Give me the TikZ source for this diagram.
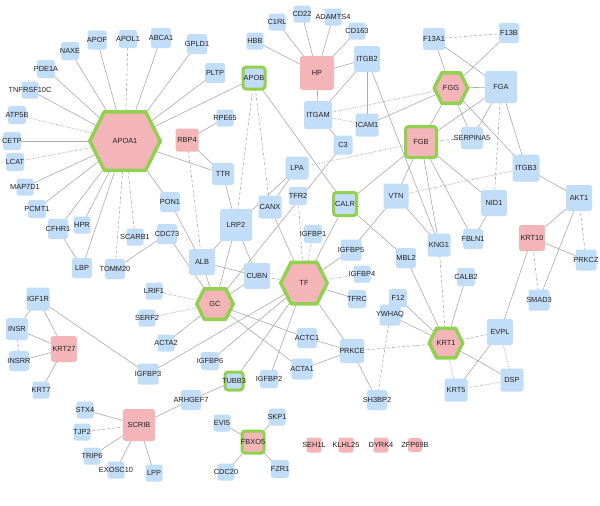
\documentclass[tikz,border=0pt]{standalone}
\usepackage{fontspec}
\setmainfont{Liberation Sans}
\definecolor{nblue}{HTML}{C2DDF7}
\definecolor{npink}{HTML}{F4B5B9}
\definecolor{ngreen}{HTML}{92D050}
\definecolor{egray}{HTML}{ABABAB}
\definecolor{txt}{HTML}{222222}
\pgfdeclarelayer{bgl}
\pgfdeclarelayer{edges}
\pgfsetlayers{bgl,edges,main}
\tikzset{
  lbl/.style={font=\fontsize{7.4}{8}\selectfont, text=txt, inner sep=0pt},
  bn/.style={lbl, fill=nblue, rounded corners=2.5pt, minimum width=#1pt, minimum height=#1pt},
  pn/.style={lbl, fill=npink, rounded corners=2.5pt, minimum width=#1pt, minimum height=#1pt},
  gb/.style={lbl, fill=nblue, draw=ngreen, line width=3pt, rounded corners=3pt, minimum width=#1pt, minimum height=#1pt},
  gp/.style={lbl, fill=npink, draw=ngreen, line width=3pt, rounded corners=3pt, minimum width=#1pt, minimum height=#1pt},
  hexst/.style={fill=npink, draw=ngreen, line width=3.5pt, line join=round},
  e/.style={draw=egray, line width=0.6pt},
  ed/.style={e, dash pattern=on 3pt off 2pt},
  eo/.style={e, dash pattern=on 1.2pt off 1.3pt},
}
\newcommand\nd[3]{\node[#1] (#3) at (#2) {\makebox[0pt][c]{#3}};}
\newcommand\hexn[5]{%
  \pgfmathsetmacro\hxA{(#3-3.5)/2}%
  \pgfmathsetmacro\hxB{(#4-3.5)/2}%
  \pgfmathsetmacro\hxC{\hxA-0.5*\hxB}%
  \filldraw[hexst] ({#1-\hxA},#2) -- ({#1-\hxC},{#2-\hxB}) -- ({#1+\hxC},{#2-\hxB}) -- ({#1+\hxA},#2) -- ({#1+\hxC},{#2+\hxB}) -- ({#1-\hxC},{#2+\hxB}) -- cycle;
  \node[lbl] (#5) at (#1,#2) {#5};}
\begin{document}
\begin{tikzpicture}[x=1pt,y=-1pt]
\begin{pgfonlayer}{bgl}
\fill[white] (0,0) rectangle (600,506);
\end{pgfonlayer}
\useasboundingbox (0,0) rectangle (600,506);
% hexagons
\hexn{125}{141}{74}{62}{APOA1}
\hexn{451}{88}{37}{34}{FGG}
\hexn{304}{283}{50}{45}{TF}
\hexn{215}{304}{40}{34}{GC}
\hexn{446}{343}{37}{33}{KRT1}
% boxes
\nd{bn=19}{97,40}{APOF}
\nd{bn=18}{128,39}{APOL1}
\nd{bn=20}{161,38}{ABCA1}
\nd{bn=20}{197,44}{GPLD1}
\nd{bn=18}{70,51}{NAXE}
\nd{bn=18}{46,69}{PDE1A}
\nd{bn=17}{30,90}{TNFRSF10C}
\nd{bn=18}{17,115}{ATP5B}
\nd{bn=18}{12,141}{CETP}
\nd{bn=18}{15,162}{LCAT}
\nd{bn=17}{25,187}{MAP7D1}
\nd{bn=18}{37,209}{PCMT1}
\nd{bn=20}{58,229}{CFHR1}
\nd{bn=17}{82,225}{HPR}
\nd{bn=20}{82,268}{LBP}
\nd{bn=17}{135,237}{SCARB1}
\nd{bn=20}{115,269}{TOMM20}
\nd{bn=20}{167,234}{CDC73}
\nd{bn=20}{170,202}{PON1}
\nd{bn=22}{223,174}{TTR}
\nd{pn=23}{187,140}{RBP4}
\nd{bn=17}{225,118}{RPE65}
\nd{bn=20}{215,73}{PLTP}
\nd{gb=22}{254,78}{APOB}
\nd{bn=17}{255,41}{HBB}
\nd{bn=17}{277,22}{C1RL}
\nd{bn=17}{302,14}{CD22}
\nd{bn=17}{333,17}{ADAMTS4}
\nd{bn=17}{357,31}{CD163}
\nd{pn=34}{317,73}{HP}
\nd{bn=26}{367,59}{ITGB2}
\nd{bn=28}{318,115}{ITGAM}
\nd{bn=23}{367,125}{ICAM1}
\nd{bn=19}{343,145}{C3}
\nd{bn=23}{297,168}{LPA}
\nd{bn=23}{270,207}{CANX}
\nd{bn=18}{298,196}{TFR2}
\nd{bn=32}{236,225}{LRP2}
\nd{bn=26}{202,262}{ALB}
\nd{bn=26}{257,276}{CUBN}
\nd{gb=23}{345,204}{CALR}
\nd{bn=25}{396,196}{VTN}
\nd{bn=23}{439,245}{KNG1}
\nd{bn=18}{313,234}{IGFBP1}
\nd{bn=21}{351,250}{IGFBP5}
\nd{bn=17}{362,274}{IGFBP4}
\nd{bn=18}{357,299}{TFRC}
\nd{bn=18}{398,298}{F12}
\nd{bn=21}{390,315}{YWHAQ}
\nd{bn=20}{406,258}{MBL2}
\nd{bn=18}{466,277}{CALB2}
\nd{bn=20}{473,239}{FBLN1}
\nd{bn=26}{494,203}{NID1}
\nd{bn=27}{526,168}{ITGB3}
\nd{bn=26}{579,198}{AKT1}
\nd{pn=26}{532,238}{KRT10}
\nd{bn=21}{586,260}{PRKCZ}
\nd{bn=21}{539,300}{SMAD3}
\nd{bn=26}{500,332}{EVPL}
\nd{bn=23}{512,380}{DSP}
\nd{bn=23}{456,390}{KRT5}
\nd{pn=14}{415,445}{ZFP69B}
\nd{bn=22}{434,39}{F13A1}
\nd{bn=20}{509,33}{F13B}
\nd{bn=32}{501,87}{FGA}
\nd{bn=22}{472,138}{SERPINA5}
\nd{gp=31}{421,142}{FGB}
\nd{bn=24}{352,351}{PRKCE}
\nd{bn=20}{307,338}{ACTC1}
\nd{bn=21}{302,369}{ACTA1}
\nd{bn=18}{269,379}{IGFBP2}
\nd{gb=18}{234,381}{TUBB3}
\nd{bn=18}{210,361}{IGFBP6}
\nd{bn=17}{166,343}{ACTA2}
\nd{bn=17}{147,318}{SERF2}
\nd{bn=17}{154,291}{LRIF1}
\nd{bn=21}{148,374}{IGFBP3}
\nd{bn=20}{191,400}{ARHGEF7}
\nd{bn=20}{377,400}{SH3BP2}
\nd{bn=17}{277,417}{SKP1}
\nd{bn=17}{222,423}{EVI5}
\nd{gp=22}{253,442}{FBXO5}
\nd{bn=17}{226,472}{CDC20}
\nd{bn=18}{280,469}{FZR1}
\nd{pn=15}{314,445}{SEH1L}
\nd{pn=15}{346,445}{KLHL25}
\nd{pn=15}{381,445}{DYRK4}
\nd{bn=23}{38,299}{IGF1R}
\nd{bn=22}{17,329}{INSR}
\nd{bn=20}{19,361}{INSRR}
\nd{pn=26}{64,349}{KRT27}
\nd{bn=17}{41,390}{KRT7}
\nd{pn=32}{139,425}{SCRIB}
\nd{bn=17}{85,410}{STX4}
\nd{bn=17}{82,432}{TJP2}
\nd{bn=17}{92,456}{TRIP6}
\nd{bn=17}{116,470}{EXOSC10}
\nd{bn=17}{154,473}{LPP}
% edges
\begin{pgfonlayer}{edges}
\foreach \a/\b in {APOA1/APOF, APOA1/ABCA1, APOA1/GPLD1, APOA1/NAXE, APOA1/PDE1A, APOA1/TNFRSF10C, APOA1/CETP, APOA1/MAP7D1, APOA1/PCMT1, APOA1/CFHR1, APOA1/HPR, APOA1/LBP, APOA1/PON1, APOA1/TTR, APOA1/PLTP, APOA1/APOB, CFHR1/LBP, CDC73/TOMM20, CDC73/GC, PON1/ALB, RBP4/RPE65, RBP4/TTR, TTR/LRP2, APOB/CALR, HP/HBB, HP/C1RL, HP/CD22, HP/ADAMTS4, HP/CD163, HP/ITGB2, HP/ITGAM, ITGB2/ITGAM, ITGB2/ICAM1, ITGB2/KNG1, ITGAM/C3, ICAM1/FGG, C3/GC, LPA/CANX, LPA/LRP2, CANX/TF, LRP2/ALB, LRP2/CUBN, LRP2/GC, ALB/CUBN, ALB/GC, CUBN/GC, GC/ACTA2, GC/ACTC1, GC/ACTA1, TF/IGFBP5, TF/TFRC, TF/CALR, TF/PRKCE, TF/IGFBP3, TF/IGFBP6, TF/TUBB3, TF/IGFBP2, CALR/FGB, CALR/MBL2, VTN/FGB, VTN/KNG1, VTN/IGFBP5, FGG/F13A1, FGG/F13B, FGG/FGA, FGG/FGB, FGG/SERPINA5, FGG/ITGB3, F13A1/FGA, FGA/FGB, FGA/SERPINA5, FGA/ITGB3, FGB/NID1, FGB/FBLN1, FGB/KNG1, NID1/FBLN1, ITGB3/AKT1, AKT1/KRT10, AKT1/SMAD3, KRT10/PRKCZ, KRT10/EVPL, MBL2/KRT1, F12/KRT1, YWHAQ/KRT1, CALB2/KRT1, KRT1/DSP, EVPL/KRT5, PRKCE/ACTC1, PRKCE/ACTA1, PRKCE/SH3BP2, TUBB3/ARHGEF7, ARHGEF7/SCRIB, SCRIB/STX4, SCRIB/TRIP6, SCRIB/EXOSC10, SCRIB/LPP, IGF1R/INSR, IGF1R/KRT27, IGF1R/IGFBP3, INSR/KRT27, KRT27/INSRR, KRT27/KRT7, FBXO5/EVI5, FBXO5/SKP1, FBXO5/CDC20, FBXO5/FZR1}
  \draw[e] (\a.center) -- (\b.center);
\foreach \a/\b in {APOA1/APOL1, APOA1/TOMM20, APOA1/SCARB1, APOB/LRP2, APOB/CANX, RBP4/ALB, TFR2/TF, IGFBP1/TF, CUBN/TF, KNG1/KRT1, FGA/NID1, AKT1/PRKCZ, KRT10/SMAD3, PRKCE/KRT1, YWHAQ/SH3BP2, F13A1/F13B, FGB/SERPINA5, TJP2/SCRIB, INSR/INSRR, KRT1/EVPL}
  \draw[ed] (\a.center) -- (\b.center);
\foreach \a/\b in {APOA1/ATP5B, APOA1/LCAT, GC/LRIF1, GC/SERF2, TF/IGFBP4, ITGAM/FGG, ITGAM/ICAM1, LPA/FGB, VTN/ITGB3, KRT5/DSP, EVPL/DSP, KRT1/KRT5}
  \draw[eo] (\a.center) -- (\b.center);
\end{pgfonlayer}
\end{tikzpicture}
\end{document}
